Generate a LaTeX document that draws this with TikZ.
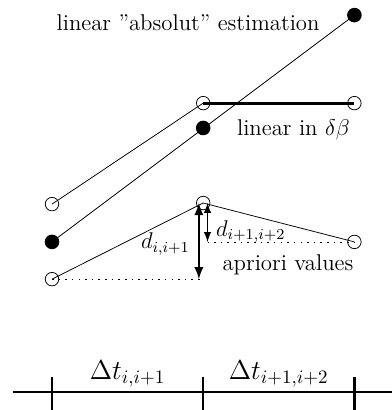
\documentclass[tikz,border=0pt]{standalone}
\usetikzlibrary{positioning}
\begin{document}
\begin{tikzpicture}[font=\large,
    opendot/.style={circle, draw, inner sep=0pt, minimum size=0.25cm},
    fulldot/.style={circle, fill=black, inner sep=0pt, minimum size=0.27cm},
    dotline/.style={dash pattern=on 0.8pt off 2.7pt}]
                \useasboundingbox (-0.963,-0.333) rectangle (6.28,7.26);

                % Linear "absolut" estimation
                \node[fulldot] (a1) at (5.6,6.98) {};
                \node[fulldot] (a2) at (2.8,4.89) {};
                \node[fulldot] (a3) at (0,2.78) {};
                \draw (a3.center) -- (a1.center);
                \node (absnote) at (2.52,6.83) {linear ''absolut'' estimation};

                % Linear in delta beta
                \node[opendot] (l1) at (0,3.48) {};
                \node[opendot] (l2) at (2.8,5.35) {};
                \node[opendot] (l3) at (5.6,5.35) {};
                \draw (l1.center) -- (l2.center);
                \draw[line width=1.5pt] (l2.center) -- (l3.center);
                \node (linnote) at (4.47,4.86) {linear in $\delta\beta$};

                % Apriori values
                \node[opendot] (p1) at (0,2.09) {};
                \node[opendot] (p2) at (2.8,3.5) {};
                \node[opendot] (p3) at (5.6,2.78) {};
                \draw (p1.center) -- (p2.center) -- (p3.center);
                \draw[dotline] (p1.center) -- (p1 -| p2);
                \draw[dotline] ([xshift=0.08cm]p2 |- p3) -- (p3.center);
                \node (aprnote) at (4.37,2.36) {apriori values};

                % Differences
                \draw[latex-latex, very thick] ([xshift=-0.08cm]p2.center) -- ([xshift=-0.08cm]p2 |- p1);
                \draw[latex-latex, thick] ([xshift=0.08cm]p2.center) -- ([xshift=0.08cm]p2 |- p3);
                \node (d1) at (2.1,2.74) {$d_{i,i+1}$};
                \node (d2) at (3.68,2.97) {$d_{i+1,i+2}$};

                % Time axis
                \coordinate (t0) at (0,0);
                \coordinate (t1) at (2.8,0);
                \coordinate (t2) at (5.6,0);
                \coordinate (axl) at (-0.72,0);
                \coordinate (axr) at (6.5,0);
                \draw[line width=1pt] (axl) -- (axr);
                \foreach \t in {t0,t1}
                    \draw[line width=1pt] ([yshift=0.28cm]\t) -- ([yshift=-0.45cm]\t);
                \draw[line width=1.5pt] ([yshift=0.28cm]t2) -- ([yshift=-0.45cm]t2);
                \path (t0) -- (t1) node[midway, above=-0.03cm, font=\Large] (dt1) {$\Delta t_{i,i+1}$};
                \path (t1) -- (t2) node[midway, above=-0.03cm, font=\Large] (dt2) {$\Delta t_{i+1,i+2}$};
            \end{tikzpicture}
\end{document}
